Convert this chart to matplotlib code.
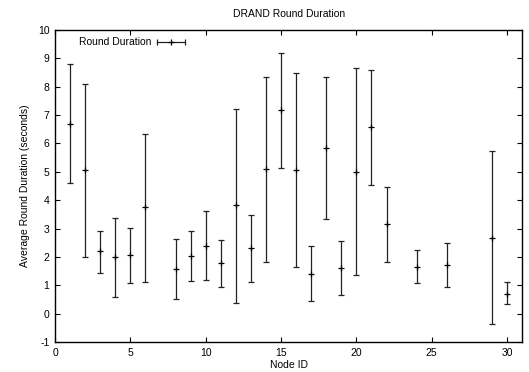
import matplotlib
matplotlib.use("Agg")
import matplotlib.pyplot as plt
from matplotlib.lines import Line2D
from matplotlib.legend_handler import HandlerLine2D, HandlerTuple

# node ids and round durations (mean, upper, lower)
nodes = [1, 2, 3, 4, 5, 6, 8, 9, 10, 11, 12, 13, 14, 15, 16, 17, 18, 19, 20,
         21, 22, 24, 26, 29, 30]
mean = [6.70, 5.05, 2.20, 2.00, 2.05, 3.75, 1.57, 2.03, 2.40, 1.77, 3.82, 2.30,
        5.10, 7.17, 5.07, 1.40, 5.83, 1.60, 5.00, 6.57, 3.15, 1.65, 1.72, 2.68,
        0.70]
upper = [8.80, 8.10, 2.92, 3.38, 3.02, 6.35, 2.62, 2.92, 3.63, 2.58, 7.22, 3.48,
         8.36, 9.20, 8.47, 2.37, 8.35, 2.55, 8.67, 8.58, 4.45, 2.25, 2.50, 5.73,
         1.10]
lower = [4.60, 2.00, 1.45, 0.57, 1.07, 1.13, 0.50, 1.15, 1.18, 0.94, 0.38, 1.12,
         1.82, 5.13, 1.65, 0.45, 3.32, 0.65, 1.35, 4.55, 1.82, 1.07, 0.95, -0.35,
         0.33]

plt.rcParams['font.family'] = ['Liberation Sans', 'DejaVu Sans']
plt.rcParams['font.size'] = 7.5
plt.rcParams['axes.unicode_minus'] = False

yerr = [[m - l for m, l in zip(mean, lower)],
        [u - m for m, u in zip(mean, upper)]]

fig = plt.figure(figsize=(5.29, 3.72), dpi=100)
ax = fig.add_axes([0.104, 0.0806, 0.883, 0.8388])
ax.errorbar(nodes, mean, yerr=yerr, fmt='+', color='black', ecolor='#222222',
            elinewidth=0.9, capsize=2.2, capthick=0.9, markersize=5,
            markeredgewidth=0.9)

ax.set_xlim(0, 31)
ax.set_ylim(-1, 10)
ax.set_xticks(range(0, 31, 5))
ax.set_yticks(range(-1, 11))
ax.tick_params(direction='in', top=True, right=True, length=3.5, width=0.8,
               labelsize=7.5, pad=4)
for s in ax.spines.values():
    s.set_linewidth(1.0)

ax.set_xlabel('Node ID', labelpad=2)
ax.set_ylabel('Average Round Duration (seconds)', labelpad=6)
ax.set_title('DRAND Round Duration', fontsize=7.5, pad=9)

# gnuplot-style key: horizontal bar with end caps and a + in the middle
caps = Line2D([], [], color='#222222', lw=0.9, marker='|', markersize=5,
              markeredgewidth=0.9)
plus = Line2D([], [], color='black', lw=0, marker='+', markersize=5,
              markeredgewidth=0.9)
ax.legend([(caps, plus)], ['Round Duration'], loc='upper left',
          bbox_to_anchor=(0.035, 1.0), frameon=False, markerfirst=False,
          handlelength=3.3, handletextpad=0.3, borderaxespad=0.3, fontsize=7.5,
          handler_map={caps: HandlerLine2D(numpoints=2),
                       plus: HandlerLine2D(numpoints=1),
                       tuple: HandlerTuple(ndivide=1, pad=0)})

plt.savefig('out.png')
plt.close()
